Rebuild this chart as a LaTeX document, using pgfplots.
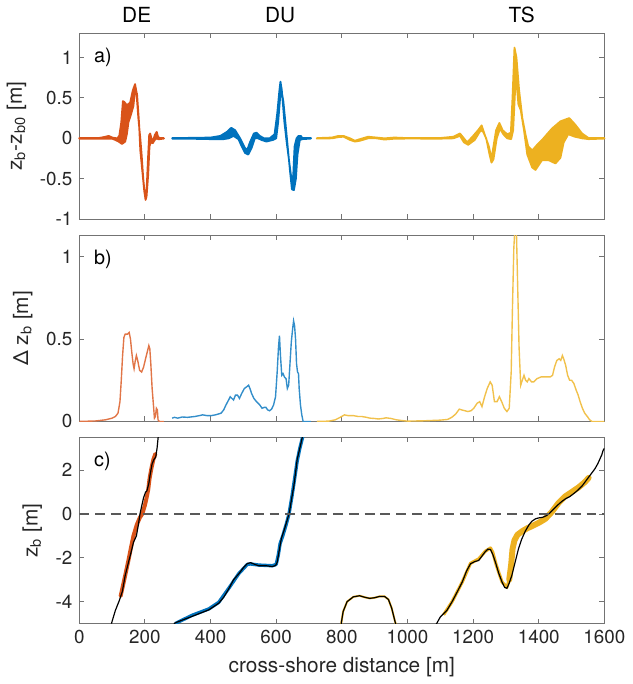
\documentclass[border=0pt]{standalone}
\usepackage{fontspec}
\setmainfont{TeX Gyre Heros}
\usepackage{pgfplots}
\pgfplotsset{compat=1.18}
\definecolor{mOrange}{HTML}{D95319}
\definecolor{mBlue}{HTML}{0072BD}
\definecolor{mYellow}{HTML}{EDB120}
\pgfplotsset{
 every axis/.append style={
  scale only axis,width=265pt,height=94pt,
  xmin=0,xmax=1600,xtick={0,200,...,1600},xticklabels={},
  tick align=inside,xtick pos=both,ytick pos=both,
  xticklabel pos=lower,yticklabel pos=left,
  major tick length=2.5pt,
  axis line style={draw=black!55,line width=0.5pt},
  tick style={draw=black!55,line width=0.5pt},
  tick label style={font=\fontsize{9.5}{11}\selectfont,text=black!85},
  label style={font=\fontsize{10.5}{12}\selectfont,text=black!85},
 }
}

\begin{document}
\begin{tikzpicture}
% a) bed level change, ensemble envelopes
\begin{axis}[at={(0pt,204pt)},ymin=-1,ymax=1.3,ytick={-1,-0.5,0,0.5,1},yticklabels={-1,-0.5,0,0.5,1},
 ylabel={z\textsubscript{b}-z\textsubscript{b0} [m]},clip=false]
\addplot[fill=mOrange,draw=mOrange,line width=0.9pt,line join=round] coordinates {
(0,0.004)(60,0.004)(80,0.02)(90,0.03)(100,0.01)(115,0.0)(122,0.03)(128,0.2)(133,0.46)(137,0.45)(145,0.41)(155,0.44)(163,0.59)(170,0.67)(174,0.58)(180,0.25)(186,0.0)(190,-0.2)(195,-0.5)(200,-0.7)(202,-0.76)(205,-0.65)(210,-0.2)(213,0.04)(216,0.06)(220,0.0)(225,-0.03)(230,0.04)(236,0.08)(240,0.02)(245,0.003)(258,0.003)
(258,-0.003)(245,-0.01)(240,-0.01)(236,0.0)(230,-0.02)(224,-0.06)(218,-0.05)(214,-0.1)(210,-0.45)(205,-0.72)(202,-0.76)(198,-0.65)(192,-0.4)(186,-0.15)(182,0.2)(176,0.55)(170,0.6)(165,0.4)(158,0.3)(150,0.2)(145,0.05)(140,-0.04)(130,-0.07)(120,-0.04)(110,-0.02)(100,-0.004)(60,-0.004)(0,-0.004)} --cycle;
\addplot[fill=mBlue,draw=mBlue,line width=0.9pt,line join=round] coordinates {
(283,0.004)(350,0.006)(400,0.01)(430,0.03)(450,0.08)(463,0.13)(475,0.1)(490,0.0)(505,-0.12)(512,-0.14)(520,-0.05)(532,0.06)(540,0.07)(550,0.03)(563,0.0)(580,0.0)(595,0.05)(603,0.3)(610,0.6)(613,0.7)(617,0.6)(625,0.2)(632,-0.05)(640,-0.3)(648,-0.55)(652,-0.45)(656,-0.1)(662,0.0)(668,0.03)(675,0.03)(680,0.003)(706,0.003)
(706,-0.003)(680,-0.01)(672,-0.02)(665,-0.2)(660,-0.5)(654,-0.64)(648,-0.63)(642,-0.4)(635,-0.1)(628,0.2)(622,0.45)(616,0.6)(612,0.5)(606,0.2)(600,0.0)(590,-0.02)(570,-0.04)(555,-0.02)(545,0.0)(535,0.0)(525,-0.12)(515,-0.2)(505,-0.18)(495,-0.1)(485,-0.01)(470,0.03)(455,0.0)(440,-0.01)(400,-0.01)(350,-0.006)(283,-0.004)} --cycle;
\addplot[fill=mYellow,draw=mYellow,line width=0.9pt,line join=round] coordinates {
(724,0.003)(770,0.01)(790,0.03)(805,0.03)(825,0.0)(840,-0.03)(855,-0.01)(880,0.02)(905,0.01)(930,0.0)(960,0.01)(1000,0.003)(1100,0.004)(1140,0.02)(1160,0.06)(1172,0.0)(1182,-0.05)(1200,0.03)(1215,0.1)(1226,0.16)(1235,0.05)(1248,-0.1)(1256,-0.25)(1262,-0.1)(1270,0.1)(1280,0.19)(1290,0.1)(1304,0.05)(1315,0.07)(1320,0.5)(1326,1.12)(1332,1.0)(1340,0.6)(1350,0.25)(1360,0.04)(1368,-0.1)(1380,-0.15)(1395,-0.08)(1410,-0.02)(1440,0.12)(1466,0.21)(1493,0.25)(1511,0.17)(1532,0.06)(1552,0.003)(1600,0.003)
(1600,-0.003)(1552,-0.01)(1532,0.0)(1510,0.02)(1490,0.05)(1476,-0.05)(1466,-0.24)(1451,-0.31)(1430,-0.27)(1410,-0.27)(1390,-0.39)(1380,-0.36)(1365,-0.2)(1355,0.1)(1345,0.35)(1338,0.42)(1332,0.7)(1328,0.6)(1322,0.1)(1316,-0.01)(1304,0.0)(1292,0.05)(1282,0.12)(1272,0.0)(1262,-0.26)(1256,-0.3)(1250,-0.2)(1240,0.0)(1228,0.1)(1220,0.08)(1205,-0.02)(1185,-0.08)(1172,-0.05)(1160,0.03)(1140,0.0)(1100,-0.004)(1000,-0.003)(960,-0.005)(930,-0.015)(905,0.0)(880,0.0)(855,-0.03)(840,-0.04)(825,-0.02)(805,0.02)(790,0.015)(770,0.0)(724,-0.003)} --cycle;
\node[anchor=north west,xshift=4pt,yshift=-4pt,font=\fontsize{10}{12}\selectfont] at (rel axis cs:0,1) {a)};
\node[anchor=base,yshift=5.5pt,font=\fontsize{10.5}{12}\selectfont] at (axis cs:175,1.3) {DE};
\node[anchor=base,yshift=5.5pt,font=\fontsize{10.5}{12}\selectfont] at (axis cs:612,1.3) {DU};
\node[anchor=base,yshift=5.5pt,font=\fontsize{10.5}{12}\selectfont] at (axis cs:1348,1.3) {TS};
\end{axis}

% b) envelope width
\begin{axis}[at={(0pt,102pt)},ymin=0,ymax=1.13,ytick={0,0.5,1},yticklabels={0,0.5,1},
 ylabel={Δ z\textsubscript{b} [m]}]
\addplot[mOrange!80!white,line width=0.7pt] coordinates {
(0,0)(50,0.003)(80,0.01)(100,0.02)(110,0.03)(118,0.05)(124,0.12)(128,0.25)(132,0.4)(136,0.51)(140,0.53)(147,0.53)(152,0.54)(156,0.5)(160,0.42)(164,0.35)(167,0.32)(170,0.36)(174,0.4)(178,0.37)(184,0.31)(190,0.3)(196,0.33)(202,0.38)(207,0.42)(212,0.46)(215,0.44)(218,0.35)(222,0.2)(226,0.1)(229,0.02)(232,0.03)(235,0.08)(238,0.07)(240,0.01)(244,0.0)(258,0.0)};
\addplot[mBlue!80!white,line width=0.7pt] coordinates {
(283,0.02)(290,0.025)(300,0.02)(314,0.027)(330,0.025)(352,0.03)(365,0.035)(376,0.04)(390,0.035)(401,0.035)(415,0.04)(432,0.05)(440,0.07)(447,0.1)(455,0.13)(460,0.15)(465,0.14)(470,0.13)(476,0.16)(482,0.16)(488,0.14)(495,0.17)(503,0.2)(510,0.21)(516,0.22)(520,0.2)(525,0.17)(532,0.14)(540,0.12)(550,0.1)(557,0.08)(563,0.085)(569,0.085)(574,0.07)(580,0.065)(586,0.075)(592,0.1)(598,0.15)(603,0.3)(607,0.45)(610,0.52)(613,0.4)(617,0.28)(621,0.29)(625,0.27)(630,0.26)(634,0.2)(638,0.22)(642,0.35)(646,0.48)(650,0.56)(653,0.61)(656,0.58)(659,0.5)(662,0.35)(665,0.3)(668,0.29)(670,0.2)(674,0.1)(678,0.04)(682,0.0)(706,0.0)};
\addplot[mYellow!80!white,line width=0.7pt] coordinates {
(724,0.0)(760,0.002)(780,0.01)(795,0.025)(808,0.04)(820,0.035)(836,0.035)(850,0.03)(861,0.03)(875,0.025)(886,0.02)(900,0.018)(911,0.015)(925,0.018)(935,0.022)(950,0.018)(966,0.01)(985,0.005)(1000,0.002)(1050,0.004)(1100,0.008)(1122,0.012)(1135,0.025)(1147,0.045)(1158,0.075)(1165,0.07)(1175,0.065)(1184,0.06)(1194,0.065)(1202,0.08)(1212,0.11)(1220,0.12)(1227,0.09)(1235,0.15)(1243,0.2)(1252,0.24)(1258,0.22)(1265,0.12)(1273,0.12)(1280,0.15)(1287,0.12)(1295,0.08)(1303,0.06)(1310,0.08)(1316,0.3)(1320,0.7)(1324,1.05)(1328,1.2)(1332,1.15)(1336,0.8)(1340,0.45)(1345,0.22)(1350,0.25)(1355,0.28)(1360,0.25)(1365,0.24)(1370,0.26)(1378,0.24)(1385,0.24)(1395,0.26)(1407,0.27)(1420,0.27)(1435,0.27)(1442,0.28)(1448,0.33)(1455,0.37)(1462,0.38)(1467,0.37)(1472,0.4)(1476,0.38)(1482,0.34)(1488,0.28)(1494,0.25)(1500,0.25)(1507,0.23)(1514,0.19)(1520,0.16)(1526,0.12)(1533,0.08)(1540,0.05)(1548,0.03)(1555,0.01)(1562,0.0)(1600,0.0)};
\node[anchor=north west,xshift=4pt,yshift=-4pt,font=\fontsize{10}{12}\selectfont] at (rel axis cs:0,1) {b)};
\end{axis}

% c) bed profiles
\begin{axis}[at={(0pt,0pt)},ymin=-5,ymax=3.5,ytick={-4,-2,0,2},yticklabels={-4,-2,0,2},
 xticklabels={0,200,400,600,800,1000,1200,1400,1600},
 xlabel={cross-shore distance [m]},ylabel={z\textsubscript{b} [m]}]
\addplot[mOrange,line width=2pt,line join=round,line cap=round] coordinates {
(126,-3.75)(140,-2.8)(150,-2.1)(158,-1.5)(165,-1.0)(175,-0.5)(185,-0.15)(192,0)(200,0.4)(206,0.8)(210,1.1)(214,1.6)(220,2.1)(226,2.5)(232,2.75)};
\addplot[mBlue,line width=1.7pt,line join=round] coordinates {
(292,-5.0)(344,-4.62)(395,-4.33)(425,-4.03)(456,-3.38)(486,-2.72)(512,-2.3)(522,-2.28)(547,-2.33)(588,-2.36)(600,-2.3)(606,-1.9)(612,-1.35)(620,-1.0)(630,-0.5)(639,0)(648,0.8)(656,1.6)(664,2.42)(672,3.0)(682,3.6)};
\addplot[mYellow,line width=1pt] coordinates {
(797,-5.1)(804,-4.45)(816,-4.0)(835,-3.78)(854,-3.73)(870,-3.8)(885,-3.85)(900,-3.82)(915,-3.76)(930,-3.76)(942,-3.9)(952,-4.3)(962,-4.9)(966,-5.1)};
\addplot[mYellow,line width=1.6pt,line join=round] coordinates {
(1110,-4.6)(1136,-4.0)(1167,-3.1)(1192,-2.25)(1217,-2.05)(1237,-1.7)(1253,-1.55)(1260,-1.75)(1270,-2.3)(1288,-3.1)(1303,-3.35)(1310,-3.0)};
\addplot[mYellow,line width=3pt,line join=round,line cap=round] coordinates {
(1310,-3.0)(1316,-2.3)(1320,-1.6)(1326,-1.2)(1335,-0.95)(1350,-0.78)(1365,-0.65)(1380,-0.55)(1400,-0.4)(1420,-0.22)(1440,0.1)(1460,0.5)(1480,0.8)(1500,1.0)(1520,1.2)(1540,1.45)(1552,1.65)};
\addplot[black,line width=0.6pt] coordinates {
(98,-5.0)(110,-4.4)(122,-3.95)(131,-3.55)(140,-2.8)(150,-2.2)(157,-1.8)(165,-1.3)(174,-1.0)(180,-0.5)(185,0)(190,0.35)(196,0.75)(202,1.0)(206,1.05)(212,1.4)(216,1.8)(222,2.3)(228,2.5)(233,2.6)(237,3.0)(241,3.6)};
\addplot[black,line width=0.6pt] coordinates {
(288,-5.0)(300,-4.92)(344,-4.67)(395,-4.37)(425,-4.07)(440,-3.8)(456,-3.4)(470,-3.0)(486,-2.73)(500,-2.45)(512,-2.26)(522,-2.22)(535,-2.3)(547,-2.36)(570,-2.36)(588,-2.4)(598,-2.35)(603,-2.2)(610,-1.6)(616,-1.1)(625,-0.7)(633,-0.3)(640,0.05)(647,0.7)(654,1.3)(660,2.0)(664,2.5)(672,3.0)(681,3.6)};
\addplot[black,line width=0.6pt] coordinates {
(797,-5.1)(804,-4.45)(816,-4.0)(835,-3.78)(854,-3.73)(870,-3.8)(885,-3.85)(900,-3.82)(915,-3.76)(930,-3.76)(942,-3.9)(952,-4.3)(962,-4.9)(966,-5.1)};
\addplot[black,line width=0.6pt] coordinates {
(1085,-5.1)(1100,-4.7)(1120,-4.4)(1136,-4.0)(1150,-3.6)(1167,-3.1)(1180,-2.6)(1192,-2.27)(1205,-2.17)(1217,-2.12)(1228,-1.9)(1237,-1.72)(1245,-1.6)(1253,-1.62)(1260,-1.85)(1268,-2.2)(1278,-2.7)(1288,-3.1)(1296,-3.35)(1303,-3.39)(1310,-3.15)(1318,-2.8)(1328,-2.2)(1338,-1.6)(1348,-1.15)(1359,-0.78)(1370,-0.5)(1379,-0.33)(1390,-0.22)(1399,-0.18)(1412,-0.15)(1424,-0.07)(1434,0.05)(1444,0.2)(1457,0.4)(1470,0.57)(1482,0.7)(1495,0.8)(1508,0.95)(1520,1.1)(1533,1.3)(1545,1.54)(1558,1.8)(1571,2.06)(1580,2.3)(1586,2.5)(1592,2.7)(1596,2.9)(1600,3.0)};
\addplot[black!65,line width=1pt,dash pattern=on 5pt off 3pt] coordinates {(0,0)(1600,0)};
\node[anchor=north west,xshift=4pt,yshift=-4pt,font=\fontsize{10}{12}\selectfont] at (rel axis cs:0,1) {c)};
\end{axis}
\path (-40pt,-27.5pt) rectangle (279pt,314.5pt);
\end{tikzpicture}
\end{document}
